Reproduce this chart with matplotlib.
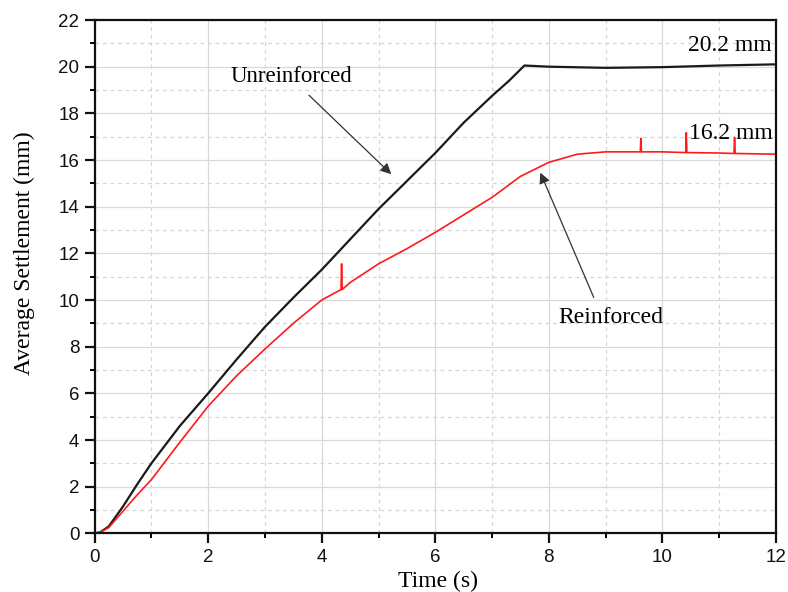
import numpy as np
import matplotlib
matplotlib.use('Agg')
import matplotlib.pyplot as plt
from matplotlib.ticker import MultipleLocator

# values
time_unreinf = [0, 0.1, 0.25, 0.5, 0.75, 1.0, 1.5, 2.0, 2.5, 3.0, 3.5, 4.0, 4.5, 5.0,
                5.5, 6.0, 6.5, 7.0, 7.3, 7.57, 8.0, 9.0, 10.0, 11.0, 12.0]
settle_unreinf = [0, 0.05, 0.3, 1.15, 2.1, 3.0, 4.6, 6.0, 7.45, 8.85, 10.1, 11.3, 12.6, 13.9,
                  15.1, 16.3, 17.6, 18.75, 19.4, 20.05, 20.0, 19.95, 19.98, 20.05, 20.1]

time_reinf = [0, 0.1, 0.25, 0.5, 0.75, 1.0, 1.5, 2.0, 2.5, 3.0, 3.5, 4.0, 4.34, 4.35, 4.36,
              4.5, 5.0, 5.5, 6.0, 6.5, 7.0, 7.5, 8.0, 8.5, 9.0, 9.61, 9.62, 9.63, 10.0,
              10.41, 10.42, 10.43, 11.0, 11.26, 11.27, 11.28, 12.0]
settle_reinf = [0, 0.05, 0.25, 0.95, 1.65, 2.3, 3.9, 5.45, 6.75, 7.9, 9.0, 10.0, 10.45, 11.55, 10.45,
                10.75, 11.55, 12.2, 12.9, 13.65, 14.4, 15.3, 15.9, 16.25, 16.35, 16.35, 16.93, 16.35, 16.35,
                16.32, 17.17, 16.32, 16.3, 16.28, 16.97, 16.28, 16.25]

serif = 'Liberation Serif'
sans = 'Liberation Sans'

fig = plt.figure(figsize=(7.88, 5.92), dpi=100)
ax = fig.add_axes([0.12, 0.099, 0.8648, 0.8672])

ax.plot(time_unreinf, settle_unreinf, color='#1a1a1a', lw=1.6)
ax.plot(time_reinf, settle_reinf, color='#ff1a1a', lw=1.2)

ax.set_xlim(0, 12)
ax.set_ylim(0, 22)
ax.xaxis.set_major_locator(MultipleLocator(2))
ax.xaxis.set_minor_locator(MultipleLocator(1))
ax.yaxis.set_major_locator(MultipleLocator(2))
ax.yaxis.set_minor_locator(MultipleLocator(1))

ax.grid(which='major', color='#d9d9d9', lw=0.9, ls='-')
ax.grid(which='minor', color='#d5d5d5', lw=0.9, ls=(0, (3, 3)))
ax.set_axisbelow(True)

for s in ax.spines.values():
    s.set_linewidth(1.6)
    s.set_color('#111111')
ax.tick_params(which='major', direction='out', length=7, width=1.6, pad=4,
               labelsize=13.5, colors='#111111')
ax.tick_params(which='minor', direction='out', length=3.6, width=1.4)
for lab in ax.get_xticklabels() + ax.get_yticklabels():
    lab.set_fontfamily(sans)

ax.set_xlabel('Time (s)', fontsize=17, fontfamily=serif)
ax.set_ylabel('Average Settlement (mm)', fontsize=17, fontfamily=serif)
ax.xaxis.set_label_coords(0.504, -0.073)
ax.yaxis.set_label_coords(-0.088, 0.546)

arrow = dict(arrowstyle='-|>', color='#333333', lw=0.9, mutation_scale=16)
ax.annotate('', xy=(5.26, 15.31), xytext=(3.74, 18.86), arrowprops=arrow)
ax.text(3.47, 19.6, 'Unreinforced', fontsize=16.5, fontfamily=serif,
        ha='center', va='center')
ax.annotate('', xy=(7.83, 15.57), xytext=(8.81, 10.0), arrowprops=arrow)
ax.text(9.09, 9.27, 'Reinforced', fontsize=17, fontfamily=serif,
        ha='center', va='center')

ax.text(11.92, 20.9, '20.2 mm', fontsize=17, fontfamily=serif, ha='right', va='center')
ax.text(11.95, 17.14, '16.2 mm', fontsize=17, fontfamily=serif, ha='right', va='center')

fig.savefig('out.png', dpi=100)
